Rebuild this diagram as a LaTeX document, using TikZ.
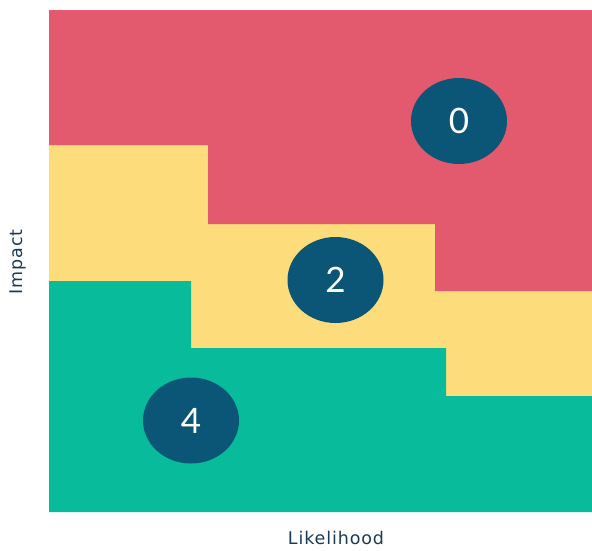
\documentclass[tikz,border=0pt]{standalone}
\usepackage{fontspec}
\setmainfont{Lato}
\newfontfamily\axisfont[LetterSpace=5]{DejaVu Sans}
\usetikzlibrary{shapes.geometric}
\definecolor{riskred}{HTML}{E35A6E}
\definecolor{riskyellow}{HTML}{FCDC7B}
\definecolor{riskgreen}{HTML}{08BB9B}
\definecolor{badge}{HTML}{0B5677}
\definecolor{axistext}{HTML}{1C3A56}
\tikzset{
  badgenode/.style={ellipse, fill=badge, minimum width=96pt, minimum height=86pt, inner sep=0pt, text=white, font=\fontsize{35}{35}\selectfont},
  axislabel/.style={text=axistext, font=\axisfont\fontsize{17.5}{17.5}\selectfont, inner sep=0pt}
}
\begin{document}
\begin{tikzpicture}[x=1pt,y=-1pt]
\useasboundingbox (0,0) rectangle (592,550);
% yellow base
\fill[riskyellow] (49,10) rectangle (592,512);
% red zone
\fill[riskred] (49,10) -- (592,10) -- (592,291) -- (435,291) -- (435,224) -- (208,224) -- (208,145) -- (49,145) -- cycle;
% green zone
\fill[riskgreen] (49,512) -- (592,512) -- (592,396) -- (446,396) -- (446,348) -- (191,348) -- (191,281) -- (49,281) -- cycle;
% badges
\node[badgenode] (b0) at (459,121) {0};
\node[badgenode] (b2) at (335.5,280) {2};
\node[badgenode] (b4) at (191,420.5) {4};
% axis labels
\node[axislabel] (xl) at (336,537.5) {Likelihood};
\node[axislabel, rotate=90] (yl) at (18,262) {Impact};
\end{tikzpicture}
\end{document}
